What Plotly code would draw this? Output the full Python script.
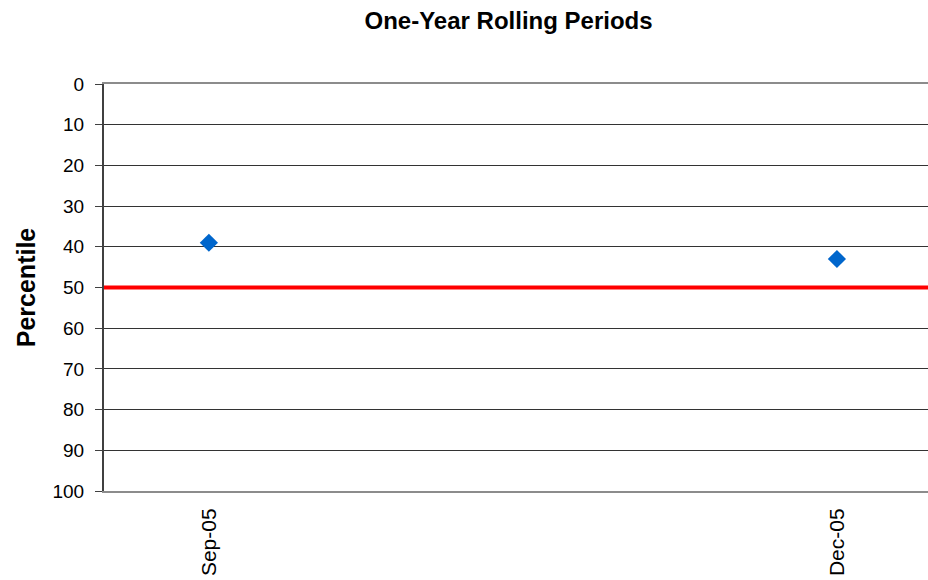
import plotly.graph_objects as go

# data
PERIODS = ["Sep-05", "Dec-05"]
PERCENTILES = [39, 43]
MEDIAN = 50
Y_TICKS = list(range(0, 101, 10))

FONT = "Arial, Liberation Sans, sans-serif"

fig = go.Figure()
fig.add_trace(go.Scatter(
    x=PERIODS, y=PERCENTILES,
    mode="markers",
    marker=dict(symbol="diamond", size=14, color="#0066CC"),
    showlegend=False,
))
fig.add_hline(y=MEDIAN, line=dict(color="#FF0000", width=4), layer="above")

fig.update_layout(
    width=928, height=580,
    paper_bgcolor="white", plot_bgcolor="white",
    font=dict(family=FONT, color="black", size=19),
    margin=dict(l=104, r=0, t=84, b=89),
    title=dict(text="<b>One-Year Rolling Periods</b>", x=0.548, xanchor="center",
               y=0.965, yanchor="middle", font=dict(size=24, family=FONT)),
    xaxis=dict(
        type="category", range=[-0.167, 1.145],
        showgrid=False, zeroline=False,
        showline=True, mirror=True, linecolor="#8c8c8c", linewidth=2,
        ticks="", tickangle=-90, tickfont=dict(size=21),
        ticklabelstandoff=7,
    ),
    yaxis=dict(
        range=[100, 0], tickvals=Y_TICKS,
        showgrid=True, gridcolor="#333333", gridwidth=1,
        zeroline=False,
        showline=True, linecolor="#404040", linewidth=2,
        ticks="outside", ticklen=7, tickcolor="#404040",
        tickfont=dict(size=19), ticklabelstandoff=7,
        title=dict(text="<b>Percentile</b>", font=dict(size=25), standoff=10),
    ),
)

fig.write_html(
    "out.html",
    config={"displayModeBar": False},
    post_script="document.body.style.margin='0';document.body.style.overflow='hidden';",
)
